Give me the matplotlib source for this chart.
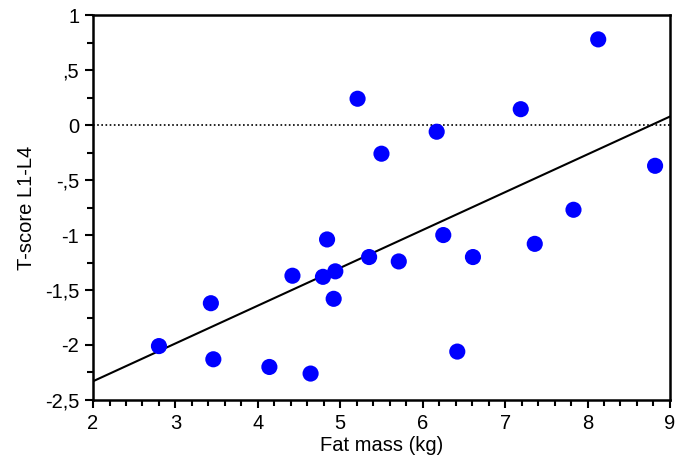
import numpy as np
import matplotlib
matplotlib.use("Agg")
import matplotlib.pyplot as plt
from matplotlib.ticker import MultipleLocator

plt.rcParams['font.family'] = ['Liberation Sans', 'DejaVu Sans']

# data
fat_mass = [2.80, 3.43, 3.46, 4.14, 4.64, 4.42, 4.84, 4.79, 4.94, 4.92, 5.35,
            5.71, 6.25, 6.61, 6.42, 7.36, 7.83, 8.13, 7.19, 6.17, 8.82, 5.50, 5.21]
t_score = [-2.01, -1.62, -2.13, -2.20, -2.26, -1.37, -1.04, -1.38, -1.33, -1.58, -1.20,
           -1.24, -1.00, -1.20, -2.06, -1.08, -0.77, 0.78, 0.145, -0.06, -0.37, -0.26, 0.24]

# fitted line
fit_slope = 0.344
fit_intercept = -3.018

x_ticks = [2, 3, 4, 5, 6, 7, 8, 9]
y_ticks = [1, 0.5, 0, -0.5, -1, -1.5, -2, -2.5]
y_tick_labels = ["1", ",5", "0", "-,5", "-1", "-1,5", "-2", "-2,5"]

fig = plt.figure(figsize=(6.76, 4.75), dpi=100)
ax = fig.add_axes([0.1376, 0.158, 0.8534, 0.81])

ax.axhline(0, color="black", linestyle=(0, (1, 1.5)), linewidth=1.2, zorder=1)

xl = np.array([2, 9])
ax.plot(xl, fit_slope * xl + fit_intercept, color="black", linewidth=1.5, zorder=2)

ax.scatter(fat_mass, t_score, s=135, color="#0000ff", edgecolors="none", zorder=3)

ax.set_xlim(2, 9)
ax.set_ylim(-2.5, 1)
ax.set_xticks(x_ticks)
ax.set_yticks(y_ticks)
ax.set_yticklabels(y_tick_labels)
ax.xaxis.set_minor_locator(MultipleLocator(0.2))
ax.yaxis.set_minor_locator(MultipleLocator(0.25))

ax.tick_params(which="major", direction="out", length=6, width=1.5, labelsize=14.5, pad=4)
ax.tick_params(which="minor", direction="out", length=4, width=1.5)
ax.tick_params(top=False, right=False, which="both")

for sp in ax.spines.values():
    sp.set_linewidth(1.8)

ax.set_xlabel("Fat mass (kg)", fontsize=14.5, labelpad=2)
ax.set_ylabel("T-score L1-L4", fontsize=14.5, labelpad=6)

fig.savefig("out.png", dpi=100)
